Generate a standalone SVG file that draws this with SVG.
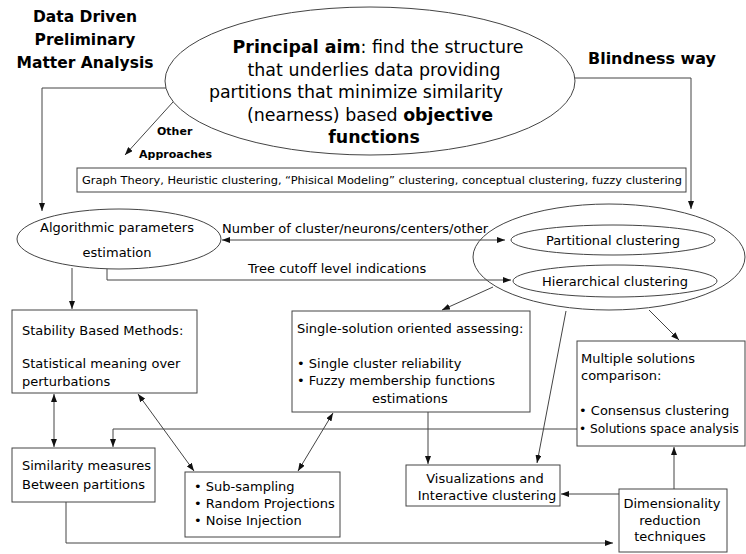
<svg xmlns="http://www.w3.org/2000/svg" width="746" height="554" viewBox="0 0 746 554">
  <defs>
    <marker id="arr" viewBox="0 0 8 6" refX="8" refY="3" markerWidth="8" markerHeight="6" markerUnits="userSpaceOnUse" orient="auto-start-reverse">
      <path d="M0,0 L8,3 L0,6 Z" fill="#111"/>
    </marker>
  </defs>
  <style>
    text { font-family: "DejaVu Sans", "Liberation Sans", sans-serif; fill: #000; }
    .t { font-size: 13px; }
    .tn { font-size: 12.2px; }
    .s { font-size: 10.5px; }
    .big { font-size: 17.4px; }
    .head { font-size: 15.5px; font-weight: bold; }
    .lbl { font-size: 11px; font-weight: bold; }
    .b { font-weight: bold; }
    .box { fill: #fff; stroke: #444; stroke-width: 1; }
    .ell { fill: none; stroke: #444; stroke-width: 1; }
    .c { fill: none; stroke: #444; stroke-width: 1; }
    .c1 { marker-end: url(#arr); }
    .c2 { marker-start: url(#arr); marker-end: url(#arr); }
    .mid { text-anchor: middle; }
  </style>

  <rect width="746" height="554" fill="#fff"/>

  <!-- side headings -->
  <g id="heading-left">
    <text class="head mid" x="85" y="22">Data Driven</text>
    <text class="head mid" x="85" y="45">Preliminary</text>
    <text class="head mid" x="85" y="68">Matter Analysis</text>
  </g>
  <g id="heading-right">
    <text class="head" x="588" y="64" textLength="128" lengthAdjust="spacingAndGlyphs">Blindness way</text>
  </g>

  <!-- central aim -->
  <g id="principal-aim">
    <ellipse class="ell" cx="370" cy="81" rx="205" ry="74"/>
    <text class="big mid" x="378" y="53"><tspan class="b">Principal aim</tspan>: find the structure</text>
    <text class="big mid" x="374" y="76">that underlies data providing</text>
    <text class="big mid" x="356" y="98">partitions that minimize similarity</text>
    <text class="big mid" x="370" y="121">(nearness) based <tspan class="b">objective</tspan></text>
    <text class="big mid b" x="374" y="143">functions</text>
  </g>

  <g id="other-approaches-label">
    <text class="lbl" x="157" y="135">Other</text>
    <text class="lbl" x="139" y="158">Approaches</text>
  </g>

  <g id="other-approaches">
    <rect class="box" x="77" y="168" width="609" height="24"/>
    <text class="s" x="82" y="184" textLength="600" lengthAdjust="spacingAndGlyphs">Graph Theory, Heuristic clustering, “Phisical Modeling” clustering, conceptual clustering, fuzzy clustering</text>
  </g>

  <g id="algorithmic-parameters">
    <ellipse class="ell" cx="119" cy="239" rx="102" ry="30"/>
    <text class="t mid" x="117" y="232">Algorithmic parameters</text>
    <text class="t mid" x="117" y="257">estimation</text>
  </g>

  <g id="clustering">
    <ellipse class="ell" cx="609" cy="257" rx="136" ry="53"/>
    <ellipse class="ell" cx="613" cy="240" rx="102" ry="15"/>
    <text class="t mid" x="613" y="245">Partitional clustering</text>
    <ellipse class="ell" cx="615" cy="281" rx="102" ry="16"/>
    <text class="t mid" x="615" y="286">Hierarchical clustering</text>
  </g>

  <g id="stability">
    <rect class="box" x="12" y="310" width="185" height="83"/>
    <text class="t" x="22" y="335">Stability Based Methods:</text>
    <text class="t" x="22" y="368">Statistical meaning over</text>
    <text class="t" x="22" y="386">perturbations</text>
  </g>

  <g id="single-solution">
    <rect class="box" x="292" y="311" width="238" height="101"/>
    <text class="t" x="297" y="333">Single-solution oriented assessing:</text>
    <text class="t" x="297" y="368">• Single cluster reliability</text>
    <text class="t" x="297" y="385">• Fuzzy membership functions</text>
    <text class="t" x="372" y="403">estimations</text>
  </g>

  <g id="multiple-solutions">
    <rect class="box" x="577" y="341" width="168" height="105"/>
    <text class="t" x="581" y="363">Multiple solutions</text>
    <text class="t" x="581" y="380">comparison:</text>
    <text class="t" x="579" y="415">• Consensus clustering</text>
    <text class="tn" x="579" y="433">• Solutions space analysis</text>
  </g>

  <g id="similarity">
    <rect class="box" x="12" y="448" width="143" height="54"/>
    <text class="t" x="22" y="470">Similarity measures</text>
    <text class="t" x="22" y="489">Between partitions</text>
  </g>

  <g id="perturbations">
    <rect class="box" x="185" y="472" width="155" height="65"/>
    <text class="t" x="194" y="491">• Sub-sampling</text>
    <text class="t" x="194" y="508">• Random Projections</text>
    <text class="t" x="194" y="525">• Noise Injection</text>
  </g>

  <g id="visualizations">
    <rect class="box" x="406" y="465" width="154" height="41"/>
    <text class="t mid" x="485" y="483">Visualizations and</text>
    <text class="t mid" x="487" y="500">Interactive clustering</text>
  </g>

  <g id="dimensionality">
    <rect class="box" x="619" y="489" width="108" height="63"/>
    <text class="t mid" x="672" y="508">Dimensionality</text>
    <text class="t mid" x="670" y="525">reduction</text>
    <text class="t mid" x="670" y="541">techniques</text>
  </g>

  <g id="connectors">
    <path class="c c1" d="M166,88 H42 V211"/>
    <path class="c c1" d="M575,78 H691 V209"/>
    <path class="c c1" d="M173,102 L125,155"/>
    <path class="c c2" d="M222,240 H505"/>
    <text class="t" x="222" y="233">Number of cluster/neurons/centers/other</text>
    <path class="c c1" d="M107,269 V280 H511"/>
    <text class="t" x="248" y="273">Tree cutoff level indications</text>
    <path class="c c1" d="M72,268 V309"/>
    <path class="c c1" d="M493,287 L442,310"/>
    <path class="c c1" d="M566,311 L537,463"/>
    <path class="c c1" d="M649,310 L679,340"/>
    <path class="c c1" d="M428,412 V464"/>
    <path class="c c1" d="M577,429 H113 V447"/>
    <path class="c c2" d="M54,394 V447"/>
    <path class="c c2" d="M138,394 L194,471"/>
    <path class="c c2" d="M333,413 L298,471"/>
    <path class="c c1" d="M66,502 V543 H613"/>
    <path class="c c1" d="M674,489 V447"/>
    <path class="c c1" d="M619,494 H561"/>
  </g>
</svg>
